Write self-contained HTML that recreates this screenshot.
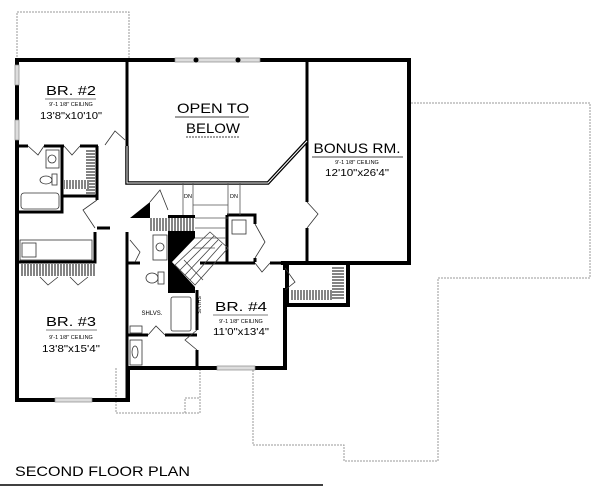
<!DOCTYPE html>
<html><head><meta charset="utf-8"><style>
html,body{margin:0;padding:0;background:#fff;}
svg{display:block;}
text{font-family:"Liberation Sans",sans-serif;fill:#000;}
</style></head><body>
<svg width="600" height="498" viewBox="0 0 600 498" xmlns="http://www.w3.org/2000/svg">
<defs>
<pattern id="hv" width="3" height="10" patternUnits="userSpaceOnUse"><rect width="3" height="10" fill="#fff"/><line x1="1" y1="0" x2="1" y2="10" stroke="#333" stroke-width="1.2"/></pattern>
<pattern id="hh" width="10" height="3" patternUnits="userSpaceOnUse"><rect width="10" height="3" fill="#fff"/><line x1="0" y1="1" x2="10" y2="1" stroke="#333" stroke-width="1.2"/></pattern>
</defs>
<g fill="none" stroke="#999" stroke-width="1" stroke-dasharray="2,1">
<path d="M17,60 V12 H129 V60"/>
<path d="M411,103 H590 V278 H438 V461 H344 V445 H253 V370"/>
<path d="M116,368 V413 H200 V368"/>
<path d="M185,413 V398 H200"/>
</g>
<g fill="none" stroke="#000" stroke-width="4" stroke-linecap="square">
<path d="M17,60 H409 V263 H283"/>
<path d="M17,60 V400 H128 V368 H285 V290"/>
<path d="M285,263 V268"/>
<path d="M287,263 V305 H348 V263"/>
</g>
<g fill="#ddd" stroke="#888" stroke-width="0.7">
<rect x="175" y="58" width="85" height="4"/>
<rect x="15" y="65" width="4" height="20"/>
<rect x="15" y="120" width="4" height="20"/>
<rect x="55" y="398" width="37" height="4"/>
<rect x="217" y="366" width="38" height="4"/>
</g>
<circle cx="196" cy="60" r="2.5"/><circle cx="238" cy="60" r="2.5"/>
<g fill="none" stroke="#000" stroke-width="3">
<path d="M127,60 V146"/>
<path d="M307,60 V202 M307,228 V263"/>
<path d="M17,146 H28 M44,146 H64 M80,146 H98"/>
<path d="M62,146 V212 H17"/>
<path d="M97,146 V196 H62"/>
<path d="M97,196 V200"/>
<path d="M95,232 V262 H17"/>
<path d="M127,232 V400"/>
<path d="M97,228 H110"/>
<path d="M128,263 H140"/>
<path d="M128,335 H148 M165,335 H197"/>
<path d="M197,290 V330 M197,350 V368"/>
<path d="M200,263 H255 M270,263 H285"/>
<path d="M227,215 H255 V224 M255,258 V262 M227,215 V262"/>
</g>
<path d="M127,146 V183 H268 L307,141" fill="none" stroke="#000" stroke-width="3.5"/>
<path d="M127,146 V183 H268 L307,141" fill="none" stroke="#fff" stroke-width="1"/>
<g stroke="#555" stroke-width="0.8" fill="none">
<path d="M183,183 V215 M193,183 V240 M228,183 V215 M240,183 V215"/>
<path d="M193,205 H228 M193,218 H228 M193,228 H226 M193,238 H226 M193,248 H215"/>
</g>
<polygon points="168,215 195,215 195,238 172,262 195,287 195,293 168,293" fill="#000"/>
<polygon points="130,218 150,202 150,218" fill="#000"/>
<g stroke="#444" stroke-width="0.8" fill="none">
<path d="M175,265 L210,232 L228,248 L195,285 Z"/>
<path d="M180,270 L214,236 M185,275 L218,240 M190,280 L222,244 M184,260 L203,280"/>
</g>
<rect x="86" y="150" width="9" height="44" fill="url(#hh)"/>
<rect x="64" y="180" width="25" height="9" fill="url(#hv)"/>
<rect x="20" y="264" width="75" height="12" fill="url(#hv)"/>
<rect x="150" y="218" width="45" height="13" fill="url(#hv)"/>
<rect x="290" y="290" width="45" height="10" fill="url(#hv)"/>
<rect x="332" y="266" width="12" height="34" fill="url(#hh)"/>
<g fill="none" stroke="#333" stroke-width="0.8">
<rect x="46" y="150" width="13" height="18"/><circle cx="52" cy="159" r="4"/>
<ellipse cx="46" cy="180" rx="6" ry="4"/><rect x="52" y="174" width="5" height="11"/>
<rect x="21" y="193" width="38" height="16" rx="3"/>
<rect x="20" y="240" width="72" height="20"/><rect x="22" y="243" width="14" height="14"/>
<rect x="153" y="235" width="14" height="25"/><circle cx="160" cy="247" r="4"/>
<ellipse cx="152" cy="278" rx="6" ry="5"/><rect x="158" y="272" width="6" height="12"/>
<rect x="171" y="297" width="20" height="34" rx="2"/>
<rect x="130" y="326" width="12" height="7"/>
<rect x="130" y="340" width="12" height="25"/><ellipse cx="135" cy="352" rx="3" ry="6"/>
<rect x="232" y="220" width="14" height="14"/>
</g>
<g fill="none" stroke="#333" stroke-width="0.8">
<path d="M105,145 L115,131 L125,140"/>
<path d="M28,146 L38,155 L44,146 M64,146 L72,155 L80,146"/>
<path d="M97,200 L83,210 L95,228"/>
<path d="M40,277 L48,285 L58,277 M70,277 L78,285 L88,277"/>
<path d="M148,335 L156,326 L165,335"/>
<path d="M197,330 L185,340 L197,350"/>
<path d="M255,263 L262,272 L270,263"/>
<path d="M255,224 L265,242 L255,258"/>
<path d="M307,202 L318,214 L307,228"/>
<path d="M130,240 L140,252 L135,262"/>
<path d="M285,268 L295,282 L285,290"/>
<path d="M150,202 L160,190 L168,210"/>
</g>
<g text-anchor="middle">
<text x="213" y="113" font-size="14" textLength="72" lengthAdjust="spacingAndGlyphs">OPEN TO</text>
<line x1="175" y1="117" x2="249" y2="117" stroke="#000" stroke-width="0.8"/>
<text x="213" y="133" font-size="14" textLength="54" lengthAdjust="spacingAndGlyphs">BELOW</text>
<line x1="186" y1="137" x2="240" y2="137" stroke="#000" stroke-width="0.8" stroke-dasharray="2,1"/>
<text x="71" y="95" font-size="13" textLength="50" lengthAdjust="spacingAndGlyphs">BR. #2</text>
<line x1="45" y1="99" x2="96" y2="99" stroke="#000" stroke-width="0.6"/>
<text x="71" y="106" font-size="5.5">9'-1 1/8" CEILING</text>
<text x="71" y="119" font-size="10.5" textLength="62" lengthAdjust="spacingAndGlyphs">13'8"x10'10"</text>
<text x="357" y="153" font-size="14" textLength="87" lengthAdjust="spacingAndGlyphs">BONUS RM.</text>
<line x1="312" y1="157" x2="403" y2="157" stroke="#000" stroke-width="0.8"/>
<text x="357" y="164" font-size="5.5">9'-1 1/8" CEILING</text>
<text x="357" y="176" font-size="10" textLength="64" lengthAdjust="spacingAndGlyphs">12'10"x26'4"</text>
<text x="71" y="326" font-size="13" textLength="50" lengthAdjust="spacingAndGlyphs">BR. #3</text>
<line x1="46" y1="330" x2="97" y2="330" stroke="#000" stroke-width="0.6"/>
<text x="71" y="339" font-size="5.5">9'-1 1/8" CEILING</text>
<text x="71" y="352" font-size="10.5" textLength="58" lengthAdjust="spacingAndGlyphs">13'8"x15'4"</text>
<text x="241" y="311" font-size="13" textLength="52" lengthAdjust="spacingAndGlyphs">BR. #4</text>
<line x1="213" y1="315" x2="268" y2="315" stroke="#000" stroke-width="0.6"/>
<text x="241" y="323" font-size="5.5">9'-1 1/8" CEILING</text>
<text x="241" y="335" font-size="10.5" textLength="56" lengthAdjust="spacingAndGlyphs">11'0"x13'4"</text>
<text x="152" y="315" font-size="6">SHLVS.</text>
<text x="188" y="198" font-size="5.5">DN</text>
<text x="234" y="198" font-size="5.5">DN</text>
</g>
<text x="197" y="296" font-size="5.5" transform="rotate(90 197 296)">SHLVS.</text>
<text x="15" y="476" font-size="14" textLength="175" lengthAdjust="spacingAndGlyphs">SECOND FLOOR PLAN</text>
<line x1="0" y1="485" x2="323" y2="485" stroke="#000" stroke-width="1.5"/>
</svg>
</body></html>
